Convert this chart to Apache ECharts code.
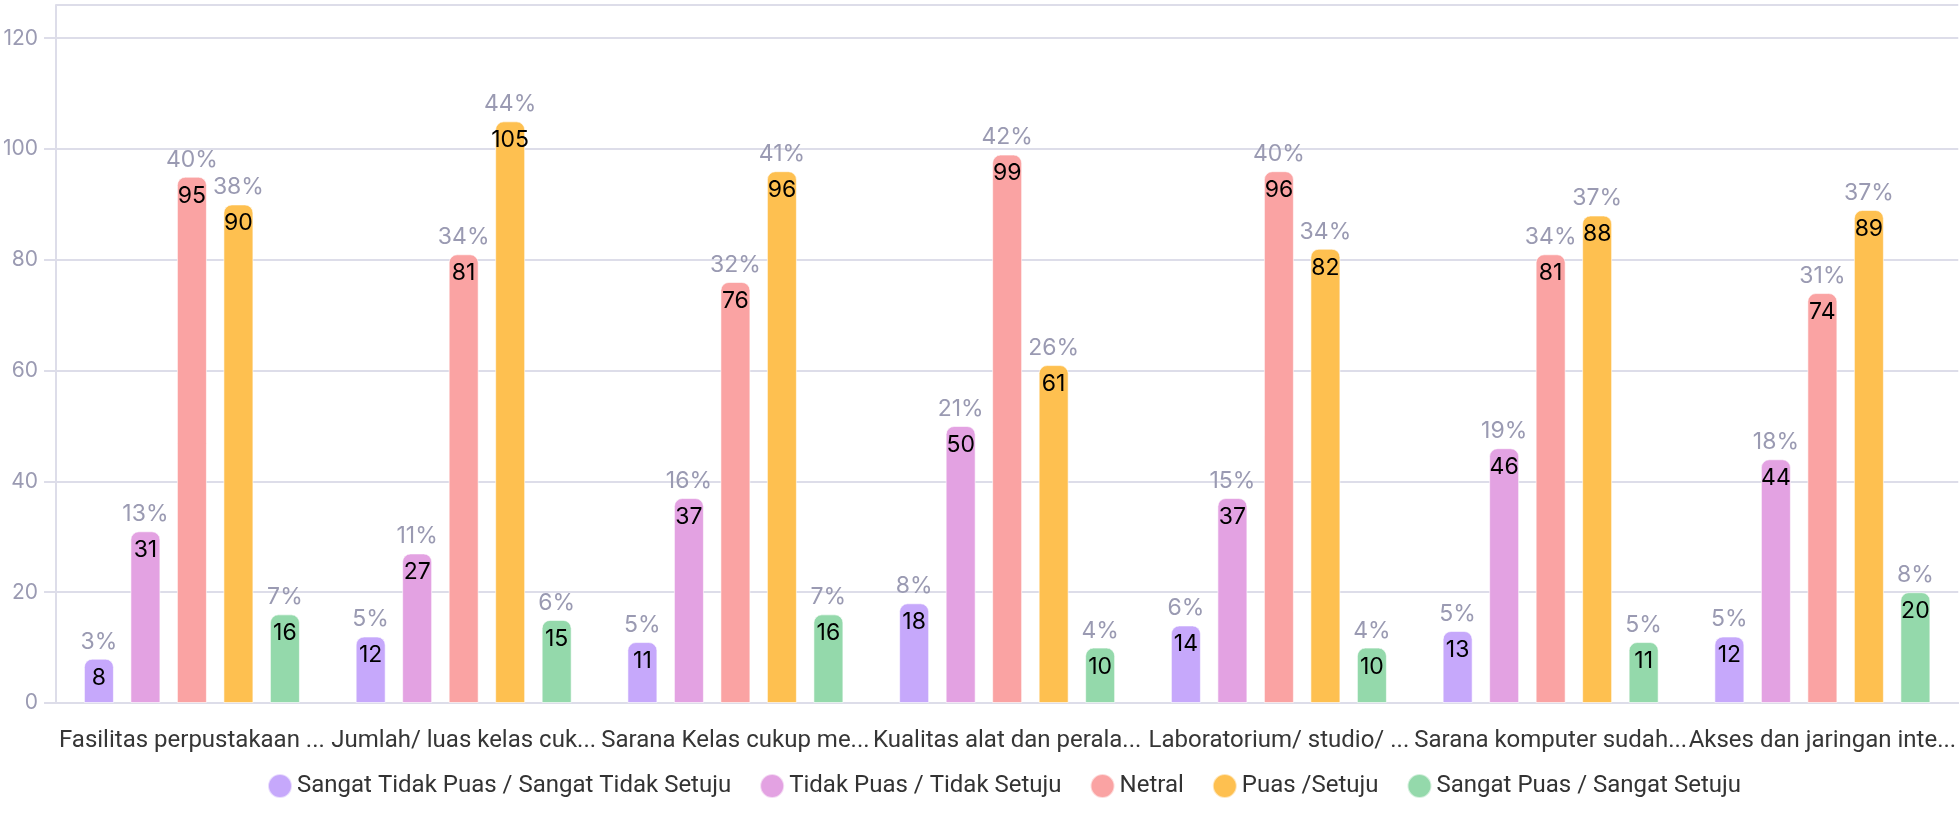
<!DOCTYPE html>
<html>
<head>
<meta charset="utf-8">
<script src="https://cdn.jsdelivr.net/npm/echarts@6/dist/echarts.min.js"></script>
<style>
html,body{margin:0;padding:0;background:#fff;}
#chart{width:1959px;height:833px;}
</style>
</head>
<body>
<div id="chart"></div>
<script>
const categories = ['Fasilitas perpustakaan ...', 'Jumlah/ luas kelas cuk...', 'Sarana Kelas cukup me...', 'Kualitas alat dan perala...', 'Laboratorium/ studio/ ...', 'Sarana komputer sudah...', 'Akses dan jaringan inte...'];
const seriesNames = ['Sangat Tidak Puas / Sangat Tidak Setuju', 'Tidak Puas / Tidak Setuju', 'Netral', 'Puas /Setuju', 'Sangat Puas / Sangat Setuju'];
const sangatTidakPuas = [8, 12, 11, 18, 14, 13, 12];
const tidakPuas = [31, 27, 37, 50, 37, 46, 44];
const netral = [95, 81, 76, 99, 96, 81, 74];
const puas = [90, 105, 96, 61, 82, 88, 89];
const sangatPuas = [16, 15, 16, 10, 10, 11, 20];
const colors = ['#c6a8fb', '#e3a2e2', '#faa3a3', '#fec050', '#94d9ab'];

const allSeries = [sangatTidakPuas, tidakPuas, netral, puas, sangatPuas];
const totals = categories.map((c, i) => allSeries.reduce((s, arr) => s + arr[i], 0));

const chart = echarts.init(document.getElementById('chart'));
chart.setOption({
  animation: false,
  color: colors,
  grid: { left: 55, right: 0, top: 5, bottom: 130 },
  legend: {
    bottom: 29,
    left: 262,
    icon: 'circle',
    itemWidth: 24,
    itemHeight: 24,
    itemGap: 28,
    textStyle: { fontFamily: 'Roboto', fontSize: 24, color: '#333' },
    data: seriesNames
  },
  xAxis: {
    type: 'category',
    data: categories,
    axisLine: { lineStyle: { color: '#dddde9', width: 2 } },
    axisTick: { alignWithLabel: true, length: 12, lineStyle: { color: '#dddde9', width: 2 } },
    axisLabel: { interval: 0, margin: 26, fontFamily: 'Roboto', fontSize: 24, color: '#363636' }
  },
  yAxis: {
    type: 'value',
    min: 0,
    max: 126,
    interval: 20,
    axisLine: { show: true, lineStyle: { color: '#dddde9', width: 2 } },
    axisTick: { show: true, length: 12, lineStyle: { color: '#dddde9', width: 2 } },
    splitLine: { lineStyle: { color: '#dddde9', width: 2 } },
    axisLabel: { showMaxLabel: false, margin: 18, fontFamily: 'Inter', fontSize: 21, color: '#9a9ab2' }
  },
  series: allSeries.map((arr, si) => ({
    name: seriesNames[si],
    type: 'bar',
    data: arr,
    barWidth: 30,
    barGap: '55%',
    itemStyle: { borderRadius: [8, 8, 0, 0], borderColor: 'rgba(255,255,255,0.6)', borderWidth: 1 },
    label: {
      show: true,
      position: 'insideTop',
      distance: 0,
      offset: [0, -34],
      formatter: (p) => '{p|' + Math.round(p.value / totals[p.dataIndex] * 100) + '%}\n{v|' + p.value + '}',
      rich: {
        p: { fontFamily: 'Inter', fontSize: 23, color: '#9a9ab2', lineHeight: 34, align: 'center' },
        v: { fontFamily: 'Inter', fontSize: 23, color: '#000', lineHeight: 38, align: 'center' }
      }
    }
  }))
});
</script>
</body>
</html>
